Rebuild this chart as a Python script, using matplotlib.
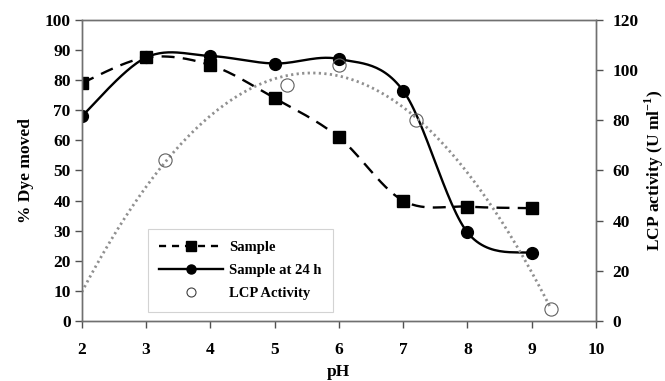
import numpy as np
import matplotlib
matplotlib.use("Agg")
import matplotlib.pyplot as plt
from matplotlib.lines import Line2D

ph = [2, 3, 4, 5, 6, 7, 8, 9]
sample = [79, 87.5, 85, 74, 61, 40, 38, 37.5]
sample_24h = [68, 87.5, 88, 85.5, 87, 76.5, 29.5, 22.5]
lcp_ph = [3.3, 5.2, 6.0, 7.2, 9.3]
lcp_activity = [64, 94, 102, 80, 5]

plt.rcParams['font.family'] = ['Liberation Serif', 'DejaVu Serif']
plt.rcParams['font.weight'] = 'bold'
plt.rcParams['mathtext.fontset'] = 'custom'
plt.rcParams['mathtext.rm'] = 'Liberation Serif:bold'
plt.rcParams['mathtext.bf'] = 'Liberation Serif:bold'


def smooth(x, y, n=30):
    # Catmull-Rom style smoothing through the points (like spreadsheet smoothed lines)
    x = np.asarray(x, float); y = np.asarray(y, float)
    px = np.concatenate([[x[0]], x, [x[-1]]])
    py = np.concatenate([[y[0]], y, [y[-1]]])
    xs, ys = [], []
    t = np.linspace(0, 1, n)
    for i in range(1, len(px) - 2):
        p0 = np.array([px[i], py[i]]); p3 = np.array([px[i + 1], py[i + 1]])
        c1 = p0 + (np.array([px[i + 1], py[i + 1]]) - np.array([px[i - 1], py[i - 1]])) / 6
        c2 = p3 - (np.array([px[i + 2], py[i + 2]]) - np.array([px[i], py[i]])) / 6
        b = ((1 - t) ** 3)[:, None] * p0 + (3 * (1 - t) ** 2 * t)[:, None] * c1 + \
            (3 * (1 - t) * t ** 2)[:, None] * c2 + (t ** 3)[:, None] * p3
        xs.extend(b[:, 0]); ys.extend(b[:, 1])
    return np.array(xs), np.array(ys)


fig = plt.figure(figsize=(6.65, 3.81), dpi=100)
ax = fig.add_axes([0.123, 0.157, 0.773, 0.791])
ax2 = ax.twinx()

sx, sy = smooth(ph, sample)
ax.plot(sx, sy, color='black', lw=1.7, dashes=(5.5, 3.5))
ax.plot(ph, sample, 's', color='black', ms=8.5, ls='none')
hx, hy = smooth(ph, sample_24h)
ax.plot(hx, hy, color='black', lw=1.7)
ax.plot(ph, sample_24h, 'o', color='black', ms=8.5, ls='none')

coef = np.polyfit(lcp_ph, lcp_activity, 2)
tx = np.linspace(2, 9.3, 200)
ax2.plot(tx, np.polyval(coef, tx), color='#909090', lw=2, ls=(0, (0.8, 1.2)))
ax2.plot(lcp_ph, lcp_activity, 'o', mfc='none', mec='#606060', ms=9.5, mew=0.8, ls='none')

ax.set_xlim(2, 10)
ax.set_ylim(0, 100)
ax2.set_ylim(0, 120)
ax.set_xticks(range(2, 11))
ax.set_yticks(range(0, 101, 10))
ax2.set_yticks(range(0, 121, 20))

for a in (ax, ax2):
    for s in a.spines.values():
        s.set_color('#707070')
        s.set_linewidth(1)
    a.tick_params(direction='out', length=5, width=1, color='#505050', labelsize=12.5)
ax.tick_params(axis='x', pad=10)
ax.tick_params(axis='y', pad=3)
ax2.tick_params(axis='y', pad=7)

ax.set_xlabel('pH', fontsize=12.5, fontweight='bold', labelpad=4)
ax.set_ylabel('% Dye moved', fontsize=12.5, fontweight='bold', labelpad=8)
ax2.set_ylabel('LCP activity (U ml$^{-1}$)', fontsize=12.5, fontweight='bold', labelpad=3)

handles = [
    Line2D([], [], color='black', lw=1.7, dashes=(3, 2.5), marker='s', ms=6.5),
    Line2D([], [], color='black', lw=1.7, marker='o', ms=6.5),
    Line2D([], [], color='black', lw=0, marker='o', mfc='none', mec='#404040', ms=6.5, mew=0.8),
]
leg = ax.legend(handles, ['Sample', 'Sample at 24 h', 'LCP Activity'],
                loc='lower left', bbox_to_anchor=(0.128, 0.03), fancybox=False,
                frameon=True, prop={'size': 10.5, 'weight': 'bold'},
                borderpad=0.8, labelspacing=0.7, handlelength=4.4, handletextpad=0.4,
                borderaxespad=0)
leg.get_frame().set_edgecolor('#c8c8c8')
leg.get_frame().set_linewidth(0.8)
for t in leg.get_texts():
    t.set_fontweight('bold')

fig.savefig('out.png', dpi=100)
